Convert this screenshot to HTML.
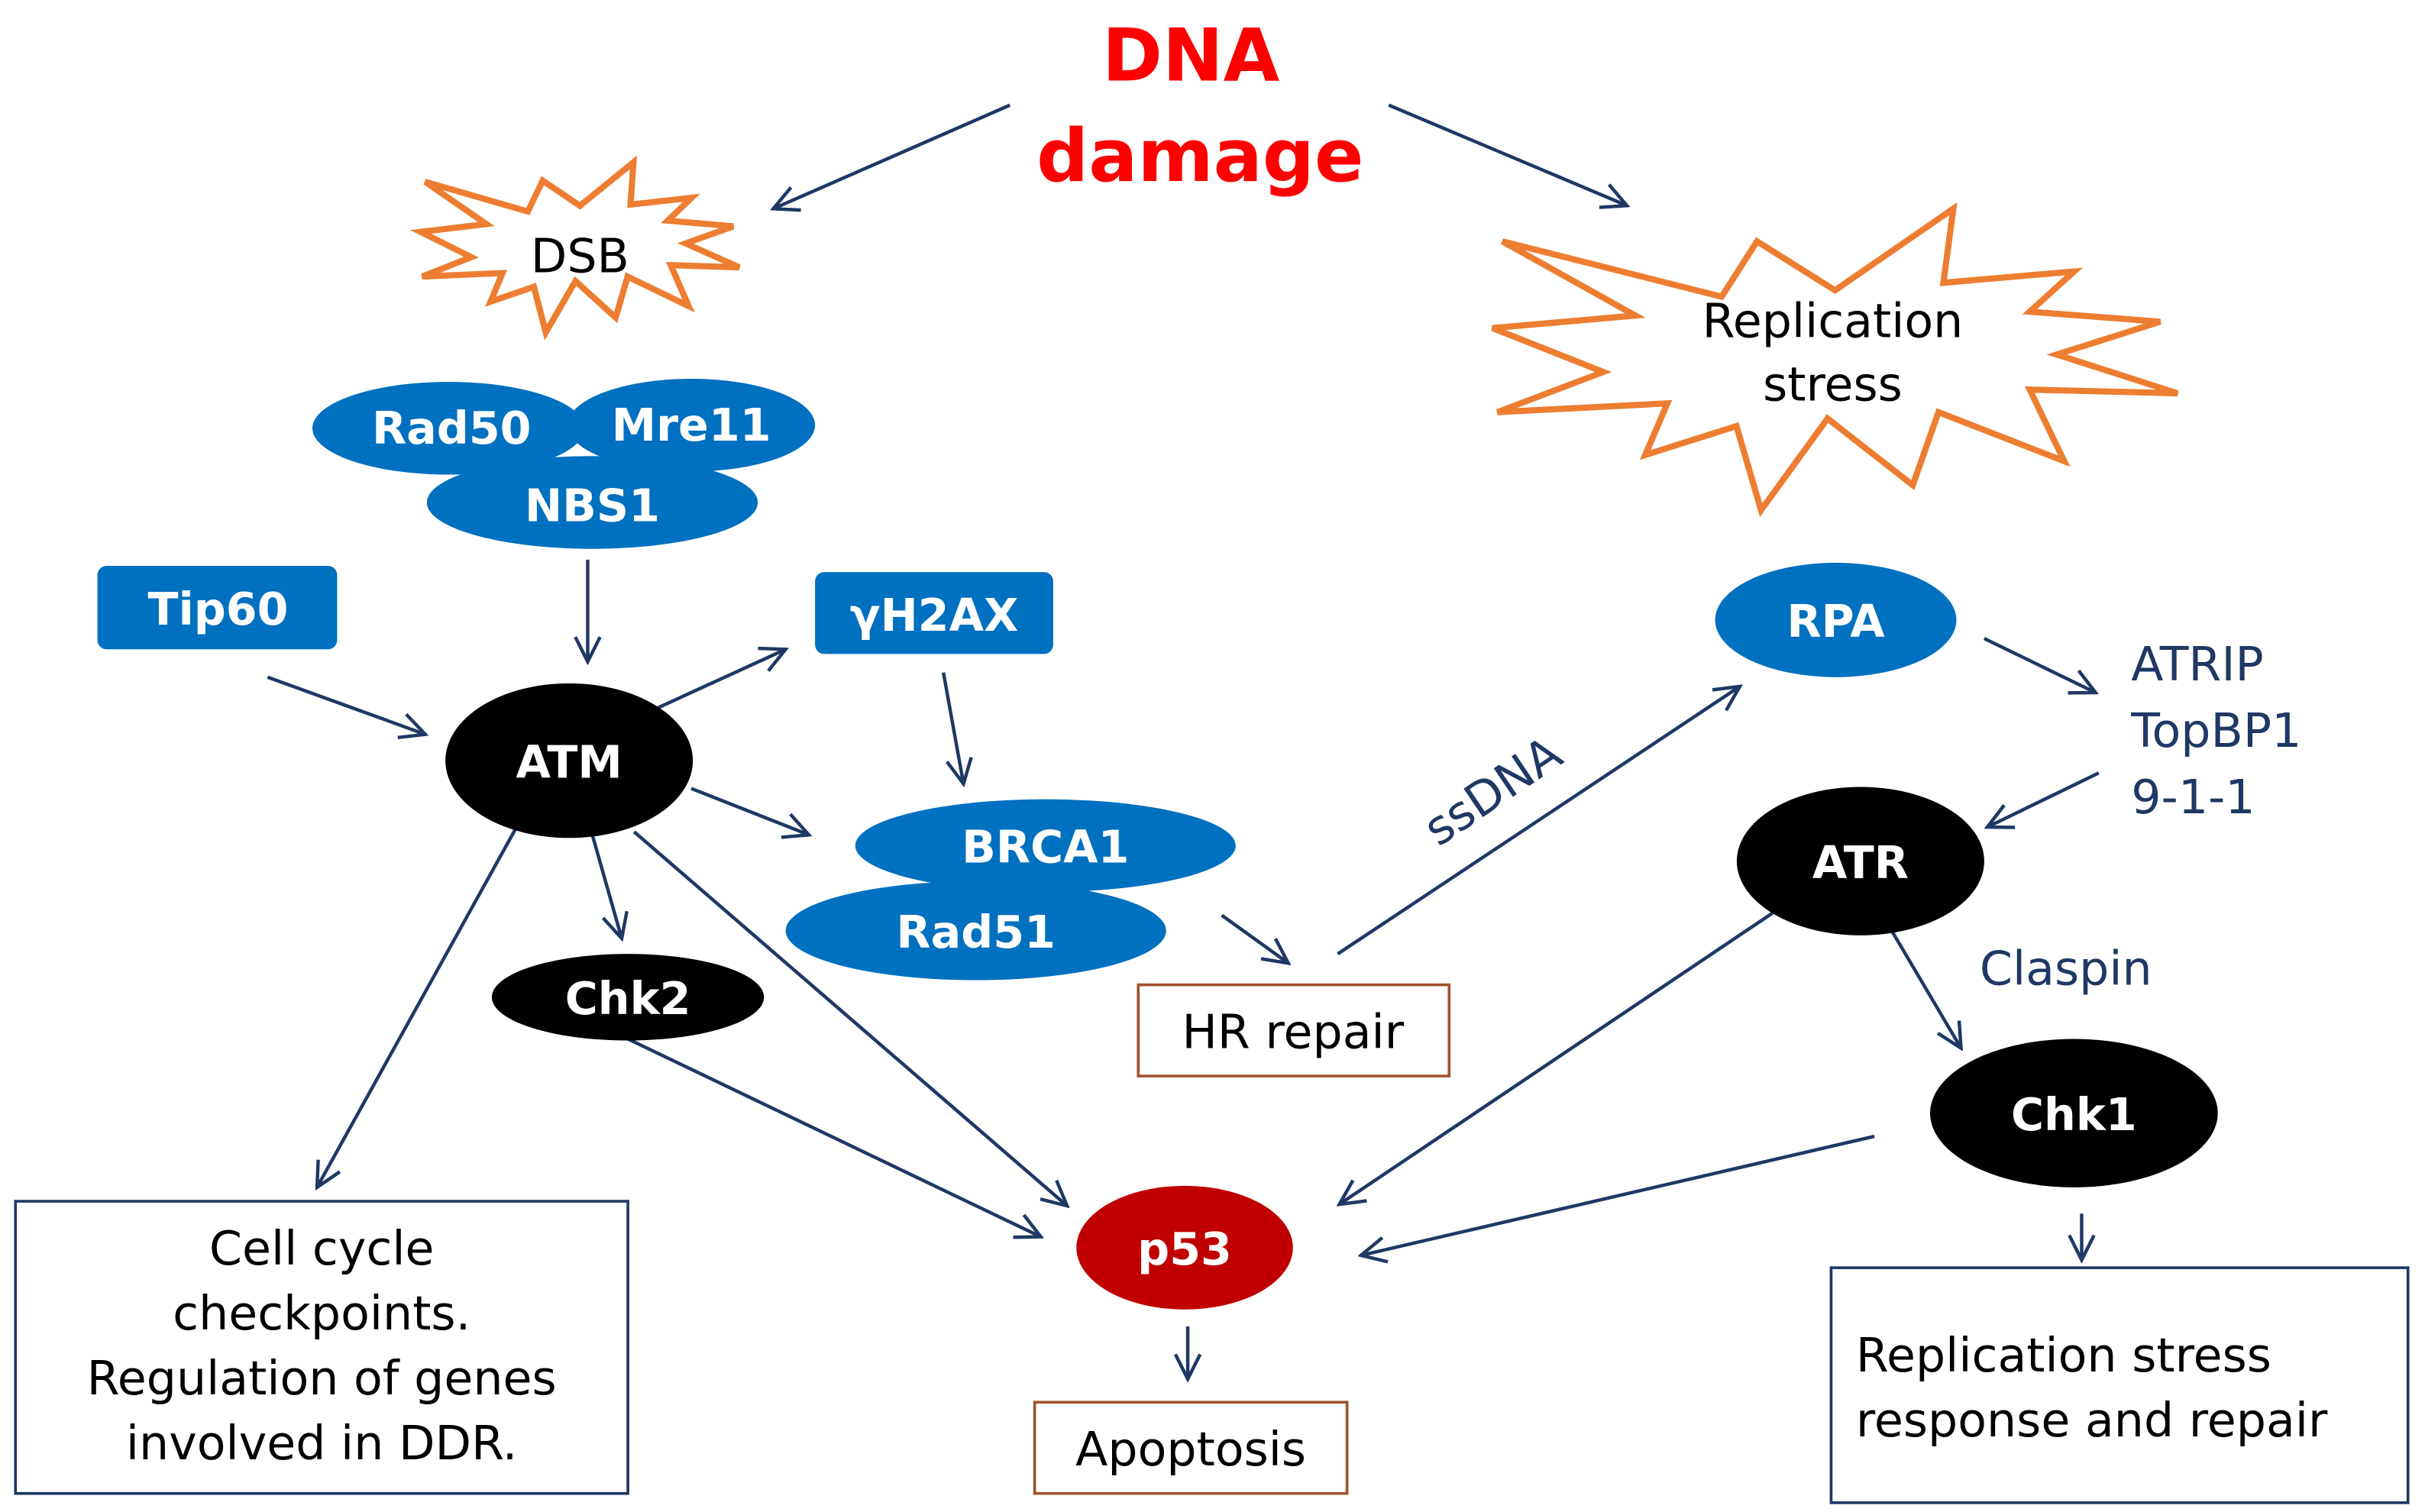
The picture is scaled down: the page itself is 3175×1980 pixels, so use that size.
<!DOCTYPE html>
<html><head><meta charset="utf-8"><style>
html,body{margin:0;padding:0;background:#fff;}
svg{display:block;}
text{font-family:"DejaVu Sans","Liberation Sans",sans-serif;}
.w{fill:#fff;font-weight:bold;font-size:29px;text-anchor:middle;}
.n{fill:#1F3864;font-size:30.5px;}
.k{fill:#000;font-size:30.5px;text-anchor:middle;}
.a{stroke:#1F3864;stroke-width:2.2;fill:none;}
</style></head><body>
<svg width="3175" height="1980" viewBox="0 0 1568 978" preserveAspectRatio="none" xmlns="http://www.w3.org/2000/svg">
<defs><marker id="m" viewBox="0 0 20 20" refX="18" refY="10" markerWidth="20" markerHeight="20" markerUnits="userSpaceOnUse" orient="auto"><path d="M2 2 L18 10 L2 18" stroke="#1F3864" stroke-width="2.2" fill="none"/></marker></defs>

<text x="770" y="52" style="font-size:47px;font-weight:bold;fill:#FF0000;text-anchor:middle">DNA</text>
<text x="776" y="117" style="font-size:47px;font-weight:bold;fill:#FF0000;text-anchor:middle">damage</text>

<g class="a" marker-end="url(#m)">
<line x1="653" y1="68" x2="500" y2="135"/>
<line x1="898" y1="68" x2="1052" y2="133"/>
<line x1="380" y1="362" x2="380" y2="428"/>
<line x1="173" y1="438" x2="275" y2="475"/>
<line x1="425" y1="458" x2="508" y2="420"/>
<line x1="610" y1="435" x2="623" y2="507"/>
<line x1="447" y1="510" x2="523" y2="540"/>
<line x1="383" y1="540" x2="402" y2="607"/>
<line x1="410" y1="538" x2="690" y2="780"/>
<line x1="334" y1="535" x2="205" y2="768"/>
<line x1="406" y1="672" x2="673" y2="800"/>
<line x1="790" y1="592" x2="833" y2="623"/>
<line x1="865" y1="617" x2="1125" y2="444"/>
<line x1="1283" y1="413" x2="1355" y2="448"/>
<line x1="1357" y1="500" x2="1285" y2="535"/>
<line x1="1147" y1="590" x2="866" y2="779"/>
<line x1="1222" y1="600" x2="1268" y2="678"/>
<line x1="1212" y1="735" x2="880" y2="812"/>
<line x1="1346" y1="785" x2="1346" y2="815"/>
<line x1="768" y1="858" x2="768" y2="892"/>
</g>

<polygon fill="#fff" stroke="#ED7D31" stroke-width="4" points="274.9,117.6 341.3,136.8 350.9,116.8 375,133.1 409.6,105 407.7,132.3 447.2,127.9 431.8,142.7 474.1,146.4 443.3,157.4 478,172.9 433.7,171.5 445.3,198 405.8,178.9 398.1,205.4 372.1,181.8 352.9,215 345.2,185.5 317.2,195.1 324.9,176.6 273,178.9 304.7,166.3 272,150 314.4,144.9"/>
<text class="k" x="375" y="176">DSB</text>

<polygon fill="#fff" stroke="#ED7D31" stroke-width="4" points="971.4,156.1 1113.2,191.9 1136.1,156.1 1186.5,187.8 1263,135 1256.6,182.9 1341.1,175.6 1312.4,201.6 1396.8,208.1 1329.9,229.3 1408,254.4 1312.4,252 1334.7,298.3 1253.4,266.6 1236.8,313.8 1181.7,270.7 1138.7,330 1122.8,275.6 1063.8,294.3 1078.1,260.9 968.2,266.6 1036.7,240.6 965,212.2 1057.4,204.1"/>
<text class="k" x="1185" y="218">Replication</text>
<text class="k" x="1185" y="259">stress</text>

<g fill="#0070C0">
<ellipse cx="383" cy="325" rx="107" ry="30"/>
<ellipse cx="290" cy="277" rx="88" ry="30"/>
<ellipse cx="447" cy="275" rx="80" ry="30"/>
<rect x="63" y="366" width="155" height="54" rx="6"/>
<rect x="527" y="370" width="154" height="53" rx="6"/>
<ellipse cx="676" cy="547" rx="123" ry="30"/>
<ellipse cx="631" cy="602" rx="123" ry="32"/>
<ellipse cx="1187" cy="401" rx="78" ry="37"/>
</g>
<text class="w" x="292" y="287">Rad50</text>
<text class="w" x="447" y="285">Mre11</text>
<text class="w" x="383" y="337">NBS1</text>
<text class="w" x="141" y="404">Tip60</text>
<text class="w" x="604" y="408">γH2AX</text>
<text class="w" x="676" y="558">BRCA1</text>
<text class="w" x="631" y="613">Rad51</text>
<text class="w" x="1187" y="412">RPA</text>

<g fill="#000">
<ellipse cx="368" cy="492" rx="80" ry="50"/>
<ellipse cx="406" cy="645" rx="88" ry="28"/>
<ellipse cx="1203" cy="557" rx="80" ry="48"/>
<ellipse cx="1341" cy="720" rx="93" ry="48"/>
</g>
<ellipse cx="766" cy="807" rx="70" ry="40" fill="#C00000"/>
<text class="w" x="368" y="503">ATM</text>
<text class="w" x="406" y="656">Chk2</text>
<text class="w" x="1203" y="568">ATR</text>
<text class="w" x="1341" y="731">Chk1</text>
<text class="w" x="766" y="818">p53</text>

<g fill="#fff" stroke-width="1.8">
<rect x="736" y="637" width="201" height="59" stroke="#A0522D"/>
<rect x="669" y="907" width="202" height="59" stroke="#A0522D"/>
<rect x="10" y="777" width="396" height="189" stroke="#1F3864"/>
<rect x="1184" y="820" width="373" height="152" stroke="#1F3864"/>
</g>
<text class="k" x="836" y="678">HR repair</text>
<text class="k" x="770" y="948">Apoptosis</text>
<text class="k" x="208" y="818">Cell cycle</text>
<text class="k" x="208" y="860">checkpoints.</text>
<text class="k" x="208" y="902">Regulation of genes</text>
<text class="k" x="208" y="944">involved in DDR.</text>
<text class="k" x="1200" y="887" style="text-anchor:start">Replication stress</text>
<text class="k" x="1200" y="929" style="text-anchor:start">response and repair</text>

<text class="n" x="1378" y="440">ATRIP</text>
<text class="n" x="1378" y="483">TopBP1</text>
<text class="n" x="1378" y="526">9-1-1</text>
<text class="n" x="1280" y="637">Claspin</text>
<text class="n" x="0" y="0" transform="translate(930,548) rotate(-34)">ssDNA</text>
</svg>
</body></html>
